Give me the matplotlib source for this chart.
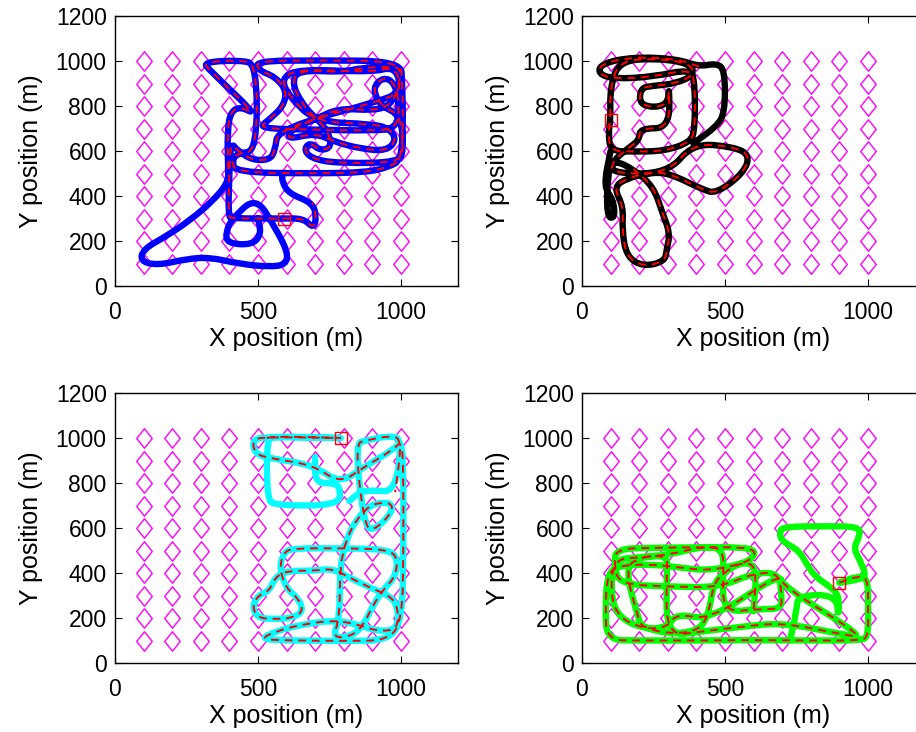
import numpy as np
import matplotlib
matplotlib.use("Agg")
import matplotlib.pyplot as plt
from matplotlib.path import Path
from matplotlib.patches import PathPatch

plt.rcParams['font.family'] = ['Liberation Sans', 'DejaVu Sans']

# Sensor grid (diamonds)
grid_x = [100, 200, 300, 400, 500, 600, 700, 800, 900, 1000]
grid_y = [100, 200, 300, 400, 500, 600, 700, 800, 900, 1000]

x_ticks = [0, 500, 1000]
y_ticks = [0, 200, 400, 600, 800, 1000, 1200]

# ---- Target 1 (blue) ----
# waypoints of the true trajectory; the estimate covers waypoints est[0]..est[1]
tgt1_x = [500, 512, 480, 392, 388, 410, 493, 560, 605, 598, 540, 437, 330, 250, 150, 88, 100, 180, 260, 340, 396,
          396, 393, 405, 440, 496, 330, 309, 437, 496, 496, 430, 410, 420, 700, 880, 960, 1000, 1008, 1005, 1000, 700,
          496, 500, 560, 600, 590, 540, 500, 700, 900, 985, 995, 980, 940, 900, 930, 1000, 1010, 990, 800, 700, 660,
          680, 720, 760, 740, 690, 650, 620, 640, 800, 860, 980, 1000, 990, 960, 900, 780, 700, 620, 600, 700, 770,
          860, 950, 985, 960, 900, 700, 612, 580, 640, 900, 975, 1000, 985, 950, 570, 560, 540,
          480, 430, 405, 400, 396, 410, 590,
          660, 695, 705, 690, 610, 585, 585]
tgt1_y = [300, 232, 182, 190, 240, 300, 397, 260, 150, 95, 85, 98, 128, 120, 92, 110, 165, 222, 290, 375, 460,
          520, 690, 775, 797, 760, 960, 995, 1004, 985, 600, 590, 560, 505, 500, 505, 530, 560, 700, 900, 1000, 1003,
          1000, 960, 930, 870, 800, 740, 700, 695, 690, 700, 800, 900, 930, 880, 800, 760, 600, 550, 545, 560, 600,
          640, 600, 620, 700, 760, 820, 900, 960, 950, 970, 975, 960, 870, 800, 780, 790, 740, 700, 650, 680, 640,
          610, 600, 650, 700, 720, 730, 840, 920, 965, 950, 975, 900, 860, 830, 700, 600, 560,
          560, 600, 640, 505, 310, 300, 300,
          300, 255, 310, 370, 410, 460, 500]
tgt1_est = (21, 111)
tgt1_box = (590, 300)

# ---- Target 2 (black) ----
tgt2_x = [389, 470, 500, 500, 470, 410,
          330, 180, 70, 55, 110, 250, 380, 395, 395, 380, 290, 180, 100, 92, 100, 98, 130, 260, 375, 395, 330, 250,
          203, 203, 300, 305, 306, 203, 200, 170, 110, 100, 300, 389, 529, 588, 564, 471, 424, 308, 240, 160, 110,
          145, 140, 156, 215, 290, 296, 308, 280, 250, 180, 110, 90, 86, 115, 110, 75, 100]
tgt2_y = [634, 708, 770, 960, 990, 975,
          1010, 1018, 990, 945, 920, 930, 965, 900, 700, 640, 600, 597, 600, 680, 740, 880, 1000, 1012, 990, 940, 900, 890,
          880, 797, 797, 900, 701, 701, 650, 620, 560, 500, 500, 634, 619, 582, 500, 412, 427, 500, 505, 480, 440,
          353, 250, 130, 86, 110, 160, 234, 330, 441, 520, 560, 500, 308, 300, 382, 441, 600]
tgt2_est = (5, 58)
tgt2_box = (100, 740)

# ---- Target 3 (cyan) ----
tgt3_x = [700, 700, 760, 787, 787, 560, 532, 531, 560, 680, 790, 790,
          520, 480, 490, 540, 694, 787, 870, 974, 1005, 1009, 1009, 1005, 960, 800, 620, 507, 560, 650, 760, 840, 920,
          990, 990, 960, 900, 820, 760, 700, 600, 560, 540, 500, 480, 500, 560, 620, 660, 640, 600, 575, 590, 620,
          800, 950, 990, 980, 940, 900, 870, 830, 760, 787, 787, 870, 960, 975, 900, 870, 840, 880, 960, 1005,
          980, 900, 857, 820]
tgt3_y = [915, 800, 800, 785, 700, 700, 730, 1000, 1006, 1004, 1000, 1000,
          1005, 990, 930, 910, 880, 798, 870, 948, 990, 800, 500, 200, 100, 98, 100, 105, 140, 170, 190, 175, 140,
          150, 250, 300, 330, 380, 420, 410, 410, 380, 320, 300, 250, 200, 195, 200, 230, 290, 330, 420, 490, 510,
          510, 505, 470, 380, 330, 250, 170, 120, 110, 200, 500, 695, 720, 675, 580, 630, 975, 990, 1010, 995,
          760, 768, 760, 720]
tgt3_est = (7, 74)
tgt3_box = (790, 1000)

# ---- Target 4 (green) ----
tgt4_x = [728, 750, 756, 891, 897, 900, 868, 820, 790, 760, 700, 690, 704, 850, 973, 970, 950, 975, 995, 960, 920, 900,
          900, 960, 1000, 1001, 1001, 975, 800, 600, 400, 200, 86, 82, 88, 115, 230, 340, 440, 560, 600, 605, 560, 400,
          250, 120, 112, 130, 300, 480, 600, 690, 698, 698, 620, 494, 494, 494, 430, 300, 200, 110, 100, 130, 220,
          300, 330, 448, 692, 704, 996, 900, 700, 550, 420, 296, 296, 300, 200, 150, 197, 210, 300, 400, 440, 460,
          494, 560, 612, 600]
tgt4_y = [102, 230, 302, 302, 191, 300, 339, 380, 430, 500, 540, 580, 606, 608, 606, 560, 510, 450, 384, 370, 360, 357,
          357, 385, 380, 250, 117, 100, 100, 102, 100, 100, 102, 250, 380, 430, 440, 425, 410, 440, 470, 500, 515, 514,
          512, 508, 440, 350, 340, 335, 400, 400, 300, 240, 240, 225, 400, 505, 520, 480, 470, 460, 300, 200, 150,
          160, 220, 191, 398, 339, 110, 130, 180, 160, 140, 120, 398, 480, 470, 420, 198, 160, 130, 140, 200, 350,
          400, 450, 430, 230]
tgt4_est = (21, 94)
tgt4_box = (900, 357)

panels = [
    (tgt1_x, tgt1_y, tgt1_est, tgt1_box, (0, 0, 1)),
    (tgt2_x, tgt2_y, tgt2_est, tgt2_box, (0, 0, 0)),
    (tgt3_x, tgt3_y, tgt3_est, tgt3_box, (0, 1, 1)),
    (tgt4_x, tgt4_y, tgt4_est, tgt4_box, (0, 1, 0)),
]


def rounded_path(xs, ys):
    """Polyline through the waypoints with corners rounded by quadratic Beziers."""
    p = np.column_stack([xs, ys]).astype(float)
    n = len(p)
    verts = [p[0], (p[0] + p[1]) / 2]
    codes = [Path.MOVETO, Path.LINETO]
    for i in range(1, n - 1):
        verts += [p[i], (p[i] + p[i + 1]) / 2]
        codes += [Path.CURVE3, Path.CURVE3]
    verts.append(p[-1])
    codes.append(Path.LINETO)
    return Path(verts, codes)


# Axes rectangles in figure fractions (left, bottom, width, height)
W, H = 916, 732
rects = [
    (115 / W, (H - 286) / H, 343 / W, 270 / H),
    (582 / W, (H - 286) / H, 343 / W, 270 / H),
    (115 / W, (H - 663) / H, 343 / W, 270 / H),
    (582 / W, (H - 663) / H, 343 / W, 270 / H),
]

diamond = Path([(0, 1), (0.8, 0), (0, -1), (-0.8, 0), (0, 1)],
               [Path.MOVETO, Path.LINETO, Path.LINETO, Path.LINETO, Path.CLOSEPOLY])

fig = plt.figure(figsize=(W / 100, H / 100), dpi=100)
gx, gy = np.meshgrid(grid_x, grid_y)

for (tx, ty, est, box, col), rect in zip(panels, rects):
    ax = fig.add_axes(rect)
    ax.plot(gx.ravel(), gy.ravel(), linestyle='none', marker=diamond, markersize=14,
            markerfacecolor='none', markeredgecolor=(1, 0, 1), markeredgewidth=1.0, zorder=1)
    ax.add_patch(PathPatch(rounded_path(tx, ty), facecolor='none', edgecolor=col,
                           linewidth=4.6, joinstyle='round', capstyle='round', zorder=2))
    s, e = est
    ax.add_patch(PathPatch(rounded_path(tx[s:e + 1], ty[s:e + 1]), facecolor='none',
                           edgecolor='red', linewidth=1.4, linestyle=(0, (4, 3)), zorder=3))
    ax.plot([box[0]], [box[1]], marker='s', markersize=9, markerfacecolor='none',
            markeredgecolor='red', markeredgewidth=1.0, zorder=4)
    ax.set_xlim(0, 1200)
    ax.set_ylim(0, 1200)
    ax.set_xticks(x_ticks)
    ax.set_yticks(y_ticks)
    ax.tick_params(direction='in', length=5, width=0.8, top=True, right=True,
                   labelsize=16.5)
    ax.tick_params(axis='x', pad=11)
    ax.tick_params(axis='y', pad=6)
    for sp in ax.spines.values():
        sp.set_linewidth(1.0)
    ax.set_xlabel('X position (m)', fontsize=18, labelpad=2)
    ax.set_ylabel('Y position (m)', fontsize=18, labelpad=9)

fig.savefig('out.png', dpi=100)
